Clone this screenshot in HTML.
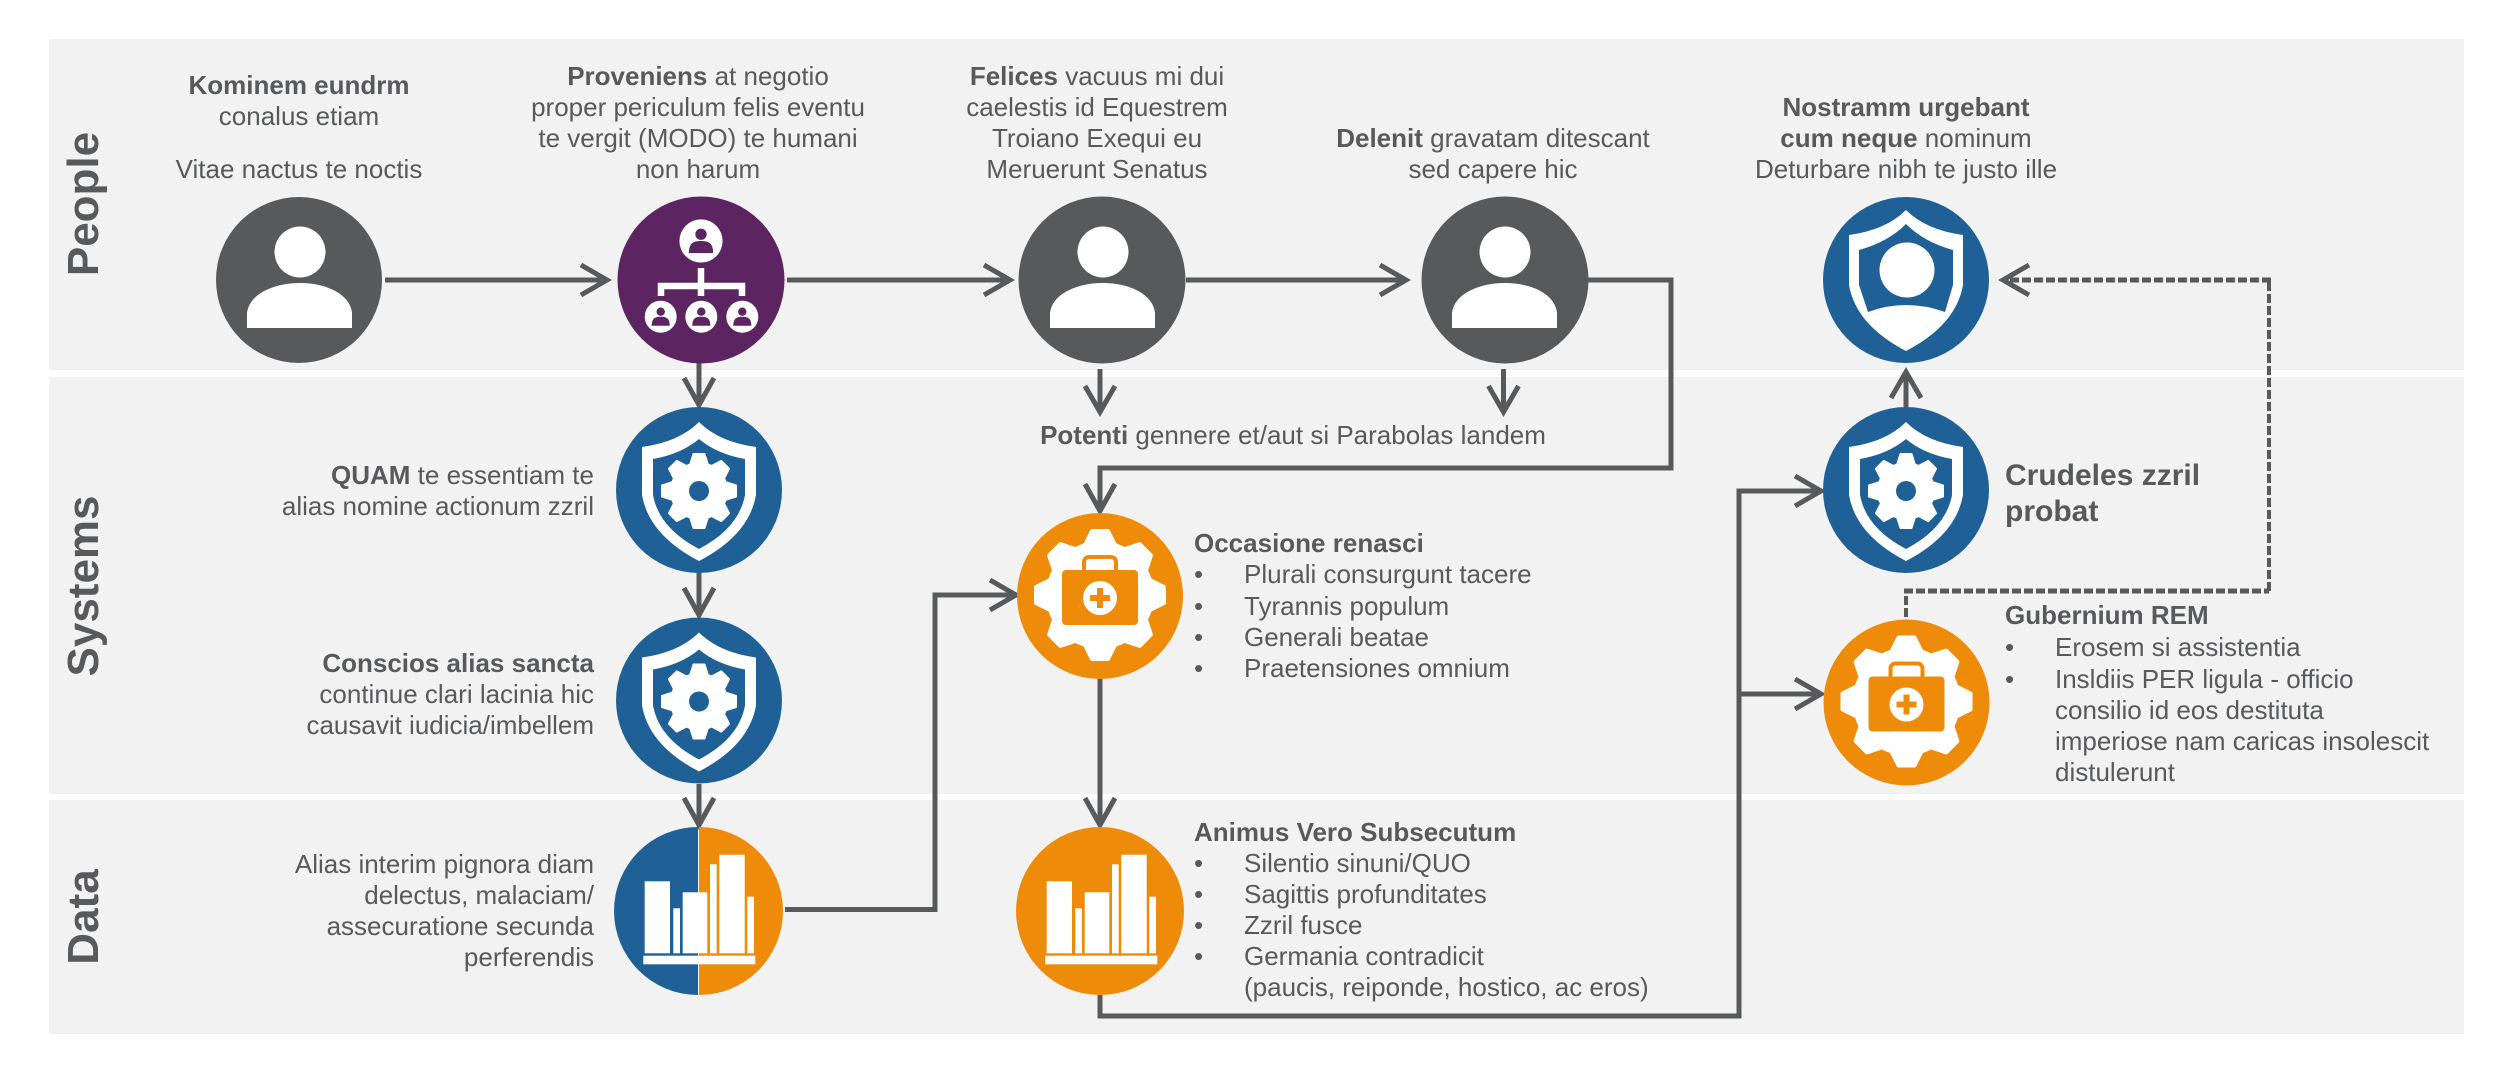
<!DOCTYPE html>
<html><head><meta charset="utf-8">
<style>
html,body{margin:0;padding:0;background:#fff}
svg{display:block}
text{font-family:"Liberation Sans",Arial,sans-serif;font-size:26px;fill:#58595b}
.b,tspan.b{font-weight:700}
.m{text-anchor:middle}
.r{text-anchor:end}
.h{font-weight:700;font-size:44px}
.l{fill:none;stroke:#58595b;stroke-width:5;stroke-linejoin:miter}
.dh{fill:none;stroke:#58595b;stroke-width:5;stroke-dasharray:9 3}
.dv{fill:none;stroke:#58595b;stroke-width:4;stroke-dasharray:9 3}
</style></head>
<body>
<svg width="2500" height="1083" viewBox="0 0 2500 1083" xmlns="http://www.w3.org/2000/svg">
<defs>
<g id="person">
  <circle cx="1" cy="-28" r="25.5" fill="#fff"/>
  <path d="M-52,48 V33 C-50,14 -25,3 1,3 C27,3 51,14 53,33 V48 Z" fill="#fff"/>
</g>
<g id="mini">
  <circle r="16" fill="#fff"/>
  <circle cy="-5" r="4.2" fill="#5c2461"/>
  <path d="M-9,9 C-9,1 -5,0 0,0 C5,0 9,1 9,9 Z" fill="#5c2461"/>
</g>
<polygon id="t1" points="-9,-26 -5.5,-37 5.5,-37 9,-26" fill="#fff" stroke="#fff" stroke-width="2" stroke-linejoin="round"/>
<g id="gearS">
  <circle r="29" fill="#fff"/>
  <use href="#t1"/><use href="#t1" transform="rotate(45)"/><use href="#t1" transform="rotate(90)"/><use href="#t1" transform="rotate(135)"/>
  <use href="#t1" transform="rotate(180)"/><use href="#t1" transform="rotate(225)"/><use href="#t1" transform="rotate(270)"/><use href="#t1" transform="rotate(315)"/>
  <circle r="10" fill="#1f6196"/>
</g>
<path id="shieldO" d="M0,-68 Q20,-48 57,-43 L57,5 Q50,45 0,71 Q-50,45 -57,5 L-57,-43 Q-20,-48 0,-68 Z" fill="#fff"/>
<g id="shieldGear">
  <circle r="83" fill="#1f6196"/>
  <use href="#shieldO"/>
  <path d="M0,-51 Q18,-36 46,-31 L46,5 Q40,38 0,59 Q-40,38 -46,5 L-46,-31 Q-18,-36 0,-51 Z" fill="#1f6196"/>
  <use href="#gearS" y="1"/>
</g>
<polygon id="t2" points="-15,-50 -8,-64 8,-64 15,-50" fill="#fff" stroke="#fff" stroke-width="4" stroke-linejoin="round"/>
<g id="gearO">
  <circle r="83" fill="#ee8c0a"/>
  <g transform="translate(0,-1)">
  <circle r="54" fill="#fff"/>
  <use href="#t2"/><use href="#t2" transform="rotate(45)"/><use href="#t2" transform="rotate(90)"/><use href="#t2" transform="rotate(135)"/>
  <use href="#t2" transform="rotate(180)"/><use href="#t2" transform="rotate(225)"/><use href="#t2" transform="rotate(270)"/><use href="#t2" transform="rotate(315)"/>
  <rect x="-16" y="-38" width="32" height="18" rx="5" fill="none" stroke="#ee8c0a" stroke-width="4"/>
  <rect x="-38" y="-25" width="76" height="55" rx="4" fill="#ee8c0a"/>
  <circle cy="3" r="17" fill="#fff"/>
  <path d="M-3,-7 H3 V0 H10 V6 H3 V13 H-3 V6 H-10 V0 H-3 Z" fill="#ee8c0a"/>
  </g>
</g>
<g id="bars" fill="#fff">
  <rect x="-53.3" y="-29.7" width="25.3" height="72"/>
  <rect x="-24.7" y="-2.7" width="6.7" height="45"/>
  <rect x="-15.3" y="-18.7" width="24.6" height="61"/>
  <rect x="12" y="-46.7" width="6.7" height="89"/>
  <rect x="21.3" y="-56.3" width="25.4" height="98.6"/>
  <rect x="49.3" y="-14.3" width="6.7" height="56.6"/>
  <rect x="-54.7" y="44.7" width="112" height="8.6"/>
</g>
</defs>

<!-- Panels -->
<rect x="49" y="39" width="2415" height="331" fill="#f2f2f2"/>
<rect x="49" y="377" width="2415" height="417" fill="#f2f2f2"/>
<rect x="49" y="800" width="2415" height="234" fill="#f2f2f2"/>

<!-- Lane labels -->
<text class="h m" transform="translate(98,204) rotate(-90)">People</text>
<text class="h m" transform="translate(98,586) rotate(-90)">Systems</text>
<text class="h m" transform="translate(98,917) rotate(-90)">Data</text>

<!-- Connectors -->
<path class="l" d="M385,280 H606"/><path class="l" d="M581,265 L607,280 L581,295"/>
<path class="l" d="M787,280 H1009"/><path class="l" d="M984,265 L1010,280 L984,295"/>
<path class="l" d="M1186,280 H1405"/><path class="l" d="M1380,265 L1406,280 L1380,295"/>
<path class="l" d="M1588,280 H1671 V468 H1100 V511"/><path class="l" d="M1085,484 L1100,511 L1115,484"/>
<path class="l" d="M699,363 V405"/><path class="l" d="M684,378 L699,405 L714,378"/>
<path class="l" d="M1100,369 V412"/><path class="l" d="M1085,386 L1100,412 L1115,386"/>
<path class="l" d="M1503.5,369 V412"/><path class="l" d="M1488.5,386 L1503.5,412 L1518.5,386"/>
<path class="l" d="M699,573 V615"/><path class="l" d="M684,588 L699,615 L714,588"/>
<path class="l" d="M699,784 V825"/><path class="l" d="M684,798 L699,825 L714,798"/>
<path class="l" d="M785,909.5 H935 V595 H1015"/><path class="l" d="M990,580 L1016,595 L990,610"/>
<path class="l" d="M1100,679 V825"/><path class="l" d="M1085,798 L1100,825 L1115,798"/>
<path class="l" d="M1100,995 V1016 H1739 V491 H1820"/><path class="l" d="M1795,476 L1821,491 L1795,506"/>
<path class="l" d="M1739,694 H1820"/><path class="l" d="M1795,679 L1821,694 L1795,709"/>
<path class="l" d="M1906,407 V372"/><path class="l" d="M1891,398 L1906,372 L1921,398"/>
<path class="dv" d="M1906,617 V591"/>
<path class="dh" d="M1904,591 H2269"/>
<path class="dv" d="M2269,591 V280"/>
<path class="dh" d="M2271,280 H2006"/><path class="l" d="M2029,265 L2003,280 L2029,295"/>

<!-- Nodes -->
<circle cx="299" cy="280" r="83" fill="#58595b"/><use href="#person" x="299" y="280"/>
<circle cx="1102" cy="280" r="83.5" fill="#58595b"/><use href="#person" x="1102" y="280"/>
<circle cx="1505" cy="280" r="83.5" fill="#58595b"/><use href="#person" x="1504" y="280"/>

<circle cx="701" cy="280" r="83.5" fill="#5c2461"/>
<use href="#mini" x="701" y="241" transform="translate(701,241) scale(1.35) translate(-701,-241)"/>
<path d="M701,268 V296 M661,296 V286 H742 V296" fill="none" stroke="#fff" stroke-width="6.5"/>
<use href="#mini" x="660.7" y="316.7"/><use href="#mini" x="701.3" y="316.7"/><use href="#mini" x="742.3" y="316.7"/>

<use href="#shieldGear" x="699" y="490"/>
<use href="#shieldGear" x="699" y="700.5"/>
<use href="#shieldGear" x="1906" y="490"/>

<circle cx="1906" cy="280" r="83" fill="#1f6196"/>
<g transform="translate(1906,280)">
  <path d="M0,-70 Q20,-50 57,-45 L57,5 Q50,45 0,71 Q-50,45 -57,5 L-57,-45 Q-20,-50 0,-70 Z" fill="#fff"/>
  <path d="M0,-56 Q18,-38 47,-30 L47,5 L39,32 Q0,18 -38,32 L-47,5 L-47,-30 Q-18,-38 0,-56 Z" fill="#1f6196"/>
  <circle cx="1" cy="-10" r="27.5" fill="#fff"/>
</g>

<use href="#gearO" x="1100" y="596"/>
<use href="#gearO" x="1906.5" y="702.5"/>

<!-- Data nodes -->
<path d="M698,827 A84,84 0 0 0 698,995 Z" fill="#1f6196"/>
<path d="M699,827 A84,84 0 0 1 699,995 Z" fill="#ee8c0a"/>
<use href="#bars" x="698" y="911"/>
<circle cx="1100" cy="911" r="84" fill="#ee8c0a"/>
<use href="#bars" x="1100" y="911"/>

<!-- People text -->
<g class="m">
<text class="m" x="299" y="94"><tspan class="b">Kominem eundrm</tspan></text>
<text class="m" x="299" y="125">conalus etiam</text>
<text class="m" x="299" y="178">Vitae nactus te noctis</text>

<text class="m" x="698" y="85"><tspan class="b">Proveniens</tspan> at negotio</text>
<text class="m" x="698" y="116">proper periculum felis eventu</text>
<text class="m" x="698" y="147">te vergit (MODO) te humani</text>
<text class="m" x="698" y="178">non harum</text>

<text class="m" x="1097" y="85"><tspan class="b">Felices</tspan> vacuus mi dui</text>
<text class="m" x="1097" y="116">caelestis id Equestrem</text>
<text class="m" x="1097" y="147">Troiano Exequi eu</text>
<text class="m" x="1097" y="178">Meruerunt Senatus</text>

<text class="m" x="1493" y="147"><tspan class="b">Delenit</tspan> gravatam ditescant</text>
<text class="m" x="1493" y="178">sed capere hic</text>

<text class="m b" x="1906" y="116">Nostramm urgebant</text>
<text class="m" x="1906" y="147"><tspan class="b">cum neque</tspan> nominum</text>
<text class="m" x="1906" y="178">Deturbare nibh te justo ille</text>

<text class="m" x="1293" y="444"><tspan class="b">Potenti</tspan> gennere et/aut si Parabolas landem</text>
</g>

<!-- Systems left -->
<text class="r" x="594" y="484"><tspan class="b">QUAM</tspan> te essentiam te</text>
<text class="r" x="594" y="515">alias nomine actionum zzril</text>
<text class="r b" x="594" y="672">Conscios alias sancta</text>
<text class="r" x="594" y="703">continue clari lacinia hic</text>
<text class="r" x="594" y="734">causavit iudicia/imbellem</text>

<text class="r" x="594" y="873">Alias interim pignora diam</text>
<text class="r" x="594" y="904">delectus, malaciam/</text>
<text class="r" x="594" y="935">assecuratione secunda</text>
<text class="r" x="594" y="966">perferendis</text>

<!-- Occasione -->
<text class="b" x="1194" y="552">Occasione renasci</text>
<text x="1194" y="583">•</text><text x="1244" y="583">Plurali consurgunt tacere</text>
<text x="1194" y="615">•</text><text x="1244" y="615">Tyrannis populum</text>
<text x="1194" y="646">•</text><text x="1244" y="646">Generali beatae</text>
<text x="1194" y="677">•</text><text x="1244" y="677">Praetensiones omnium</text>

<!-- Animus -->
<text class="b" x="1194" y="841">Animus Vero Subsecutum</text>
<text x="1194" y="872">•</text><text x="1244" y="872">Silentio sinuni/QUO</text>
<text x="1194" y="903">•</text><text x="1244" y="903">Sagittis profunditates</text>
<text x="1194" y="934">•</text><text x="1244" y="934">Zzril fusce</text>
<text x="1194" y="965">•</text><text x="1244" y="965">Germania contradicit</text>
<text x="1244" y="996">(paucis, reiponde, hostico, ac eros)</text>

<!-- Crudeles -->
<text class="b" style="font-size:30px" x="2005" y="485">Crudeles zzril</text>
<text class="b" style="font-size:30px" x="2005" y="521">probat</text>

<!-- Gubernium -->
<text class="b" x="2005" y="624">Gubernium REM</text>
<text x="2005" y="656">•</text><text x="2055" y="656">Erosem si assistentia</text>
<text x="2005" y="688">•</text><text x="2055" y="688">Insldiis PER ligula - officio</text>
<text x="2055" y="719">consilio id eos destituta</text>
<text x="2055" y="750">imperiose nam caricas insolescit</text>
<text x="2055" y="781">distulerunt</text>
</svg>
</body></html>
